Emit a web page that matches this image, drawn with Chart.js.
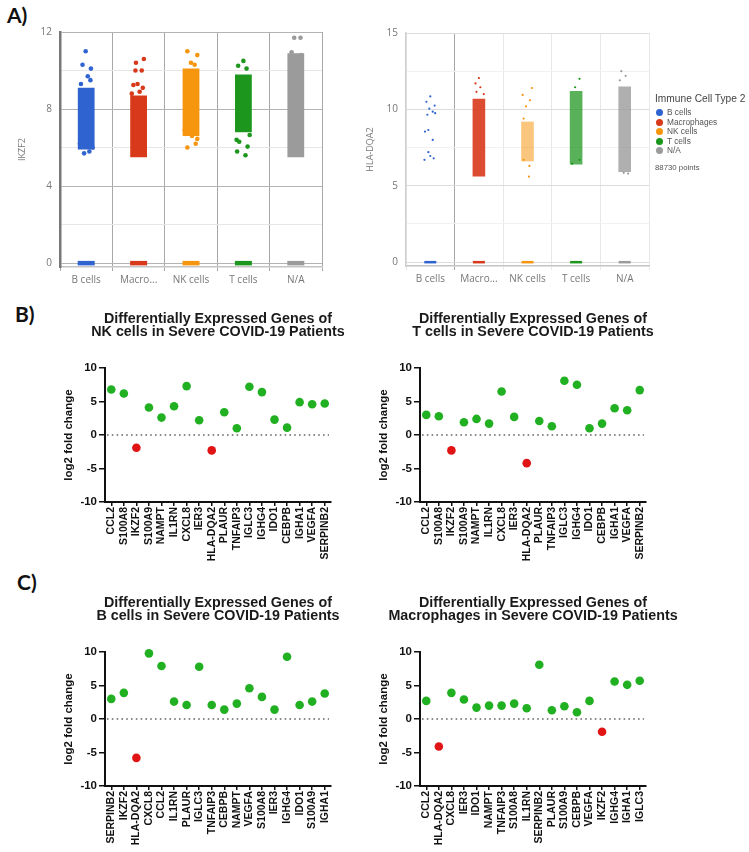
<!DOCTYPE html>
<html>
<head>
<meta charset="utf-8">
<script src="https://cdn.jsdelivr.net/npm/chart.js@4.4.1/dist/chart.umd.min.js"></script>
<style>
body{margin:0;background:#fff;}
#wrap{position:relative;width:749px;height:852px;overflow:hidden;}
canvas{position:absolute;}
.panel{position:absolute;font:bold 21px Lato,"Open Sans",sans-serif;color:#111;}
#legend{position:absolute;left:655px;top:92px;font-family:"Liberation Sans",Arial,sans-serif;color:#555;white-space:nowrap;}
#legend .ttl{font-size:10.2px;line-height:14px;color:#444;margin-bottom:2px;}
#legend .it{font-size:8.3px;height:9.6px;line-height:9.6px;}
#legend .dot{display:inline-block;width:7px;height:7px;border-radius:50%;margin:0 4px 0 1px;vertical-align:-1px;}
#legend .cnt{font-size:7.8px;line-height:10px;margin-top:7px;}
</style>
</head>
<body>
<div id="wrap">
  <div class="panel" style="left:7px;top:2px;">A)</div>
  <div class="panel" style="left:15px;top:301px;">B)</div>
  <div class="panel" style="left:17px;top:569px;">C)</div>
  <canvas id="a1" width="340" height="294" style="left:0;top:0"></canvas>
  <canvas id="a2" width="320" height="293" style="left:340px;top:0"></canvas>
  <div id="legend"></div>
  <canvas id="b1" width="370" height="265" style="left:0;top:300px"></canvas>
  <canvas id="b2" width="370" height="265" style="left:315px;top:300px"></canvas>
  <canvas id="c1" width="370" height="265" style="left:0;top:584px"></canvas>
  <canvas id="c2" width="370" height="265" style="left:315px;top:584px"></canvas>
</div>
<script>
// ---- A) expression strips ----
const cellTypes=['B cells','Macro...','NK cells','T cells','N/A']
const legendNames=['B cells','Macrophages','NK cells','T cells','N/A']
const zeroExpr=[0,0,0,0,0]
const pointCount='88730 points'

const ikzf2Ticks=[0,2,4,6,8,10,12]
const ikzf2Dense=[[5.9,9.1],[5.5,8.7],[6.6,10.1],[6.8,9.8],[5.5,10.9]]
const ikzf2Sparse=[
  [[-0.01,11.0],[-0.07,10.3],[0.09,10.1],[0.03,9.7],[0.08,9.5],[-0.1,9.3],[-0.12,6.2],[-0.04,5.7],[0.06,5.8],[0.12,6.0]],
  [[-0.05,10.4],[0.1,10.6],[0.06,10.0],[-0.06,10.0],[-0.02,9.3],[-0.1,9.25],[0.08,9.1],[0.02,8.9],[-0.13,8.8]],
  [[-0.07,11.0],[0.12,10.8],[0.0,10.4],[0.07,10.3],[-0.07,6.0],[0.09,6.2],[0.02,6.6],[0.12,6.45],[-0.12,6.9]],
  [[0.0,10.5],[-0.1,10.25],[0.06,10.1],[-0.08,6.3],[0.08,6.05],[-0.12,5.8],[0.04,5.6],[0.12,6.65],[-0.13,6.4]],
  [[-0.03,11.7],[0.09,11.7],[-0.08,10.95],[0.1,10.8]]
]

const hlaTicks=[0,2.5,5,7.5,10,12.5,15]
const hlaDense=[null,[5.6,10.7],[6.6,9.2],[6.4,11.2],[5.9,11.5]]
const hlaSparse=[
  [[0.0,10.85],[-0.08,10.5],[0.09,10.25],[-0.02,10.05],[0.05,9.85],[-0.06,9.65],[0.1,9.75],[-0.04,8.65],[-0.11,8.55],[0.05,8.0],[-0.04,7.2],[-0.12,6.7],[0.07,6.8],[0.0,6.95]],
  [[0.0,12.05],[-0.07,11.7],[0.03,11.45],[-0.05,11.15],[0.1,11.0]],
  [[0.09,11.4],[-0.1,10.95],[0.05,10.6],[-0.03,10.2],[-0.08,9.4],[0.04,6.3],[0.03,5.6],[-0.08,6.7]],
  [[0.07,12.0],[-0.02,11.45],[-0.08,6.45],[0.07,6.7]],
  [[-0.07,12.5],[0.02,12.2],[-0.1,11.9],[0.07,5.8],[-0.02,5.85]]
]

// ---- B) / C) differentially expressed genes ----
const nkGenes=['CCL2','S100A8','IKZF2','S100A9','NAMPT','IL1RN','CXCL8','IER3','HLA-DQA2','PLAUR','TNFAIP3','IGLC3','IGHG4','IDO1','CEBPB','IGHA1','VEGFA','SERPINB2']
const nkLfc=[6.8,6.2,-1.9,4.1,2.6,4.3,7.3,2.2,-2.3,3.4,1.0,7.2,6.4,2.3,1.1,4.9,4.6,4.7]
const tGenes=['CCL2','S100A8','IKZF2','S100A9','NAMPT','IL1RN','CXCL8','IER3','HLA-DQA2','PLAUR','TNFAIP3','IGLC3','IGHG4','IDO1','CEBPB','IGHA1','VEGFA','SERPINB2']
const tLfc=[3.0,2.8,-2.3,1.9,2.4,1.7,6.5,2.7,-4.2,2.1,1.3,8.1,7.5,1.0,1.7,4.0,3.7,6.7]
const bGenes=['SERPINB2','IKZF2','HLA-DQA2','CXCL8','CCL2','IL1RN','PLAUR','IGLC3','TNFAIP3','CEBPB','NAMPT','VEGFA','S100A8','IER3','IGHG4','IDO1','S100A9','IGHA1']
const bLfc=[3.0,3.9,-5.8,9.8,7.9,2.6,2.1,7.8,2.1,1.4,2.3,4.6,3.3,1.4,9.3,2.1,2.6,3.8]
const macGenes=['CCL2','HLA-DQA2','CXCL8','IER3','IDO1','NAMPT','TNFAIP3','S100A8','IL1RN','SERPINB2','PLAUR','S100A9','CEBPB','VEGFA','IKZF2','IGHG4','IGHA1','IGLC3']
const macLfc=[2.7,-4.1,3.9,2.9,1.7,2.0,2.0,2.3,1.6,8.1,1.3,1.9,1.0,2.7,-1.9,5.6,5.1,5.7]
const lfcTicks=[-10,-5,0,5,10]

const cellColors=['#2f63cf','#d8391b','#f6950e','#1c961c','#9b9b9b']
const SANS='"Open Sans", Arial, sans-serif'
const BOLD='"Liberation Sans", Arial, sans-serif'

Chart.defaults.animation=false
Chart.defaults.events=[]
Chart.defaults.plugins.legend.display=false
Chart.defaults.plugins.tooltip.enabled=false

function strip(id,o){
  const sets=[{
    type:'bar',data:o.dense,grouped:false,barPercentage:o.barPct,categoryPercentage:1,
    backgroundColor:cellColors.map((c,i)=>c+o.alpha[i]),borderWidth:0,order:3
  },{
    type:'scatter',data:zeroExpr,xAxisID:'x',pointStyle:'line',pointRadius:o.zeroLen,
    borderColor:cellColors,pointBorderColor:cellColors,pointBorderWidth:o.zeroW,order:1,clip:false
  }]
  o.sparse.forEach((pts,i)=>{
    sets.push({type:'scatter',xAxisID:'xj',data:pts.map(p=>({x:i+p[0],y:p[1]})),
      pointRadius:o.r,pointBackgroundColor:cellColors[i],pointBorderWidth:0,order:2})
  })
  new Chart(document.getElementById(id),{
    type:'bar',
    data:{labels:cellTypes,datasets:sets},
    options:{
      responsive:false,
      layout:{padding:{top:o.top,right:o.right,left:0,bottom:0}},
      scales:{
        x:{type:'category',offset:true,
          grid:{offset:true,color:o.vColor,tickLength:4,lineWidth:1},
          border:{color:'#c4c4c4',width:1.5},
          ticks:{color:'#777',font:{family:SANS,size:10},padding:3,maxRotation:0,autoSkip:false},
          afterFit:s=>{s.height=27}},
        xj:{type:'linear',min:-0.5,max:4.5,offset:false,display:false},
        y:{min:o.yMin,max:o.yMax,
          afterBuildTicks:s=>{s.ticks=o.ticks.map(v=>({value:v}))},
          ticks:{color:'#777',font:{family:SANS,size:10},padding:8,
            callback:v=>o.major(v)?v:''},
          grid:{drawTicks:false,color:c=>o.major(c.tick.value)?o.gMajor:o.gMinor,lineWidth:1},
          border:{color:o.yBorder,width:o.yBorderW},
          title:{display:true,text:o.yTitle,color:'#777',font:{family:SANS,size:9},padding:{top:o.titlePad,bottom:0}},
          afterFit:s=>{s.width=o.yWidth}}
      }
    }
  })
}

strip('a1',{dense:ikzf2Dense,sparse:ikzf2Sparse,ticks:ikzf2Ticks,yMin:-0.2,yMax:12,
  major:v=>v%4===0,gMajor:'#b4b4b4',gMinor:'#e6e6e6',yBorder:'#777',yBorderW:2.5,
  vColor:'#a8a8a8',barPct:0.32,alpha:['','','','',''],r:2.3,zeroLen:8.5,zeroW:4.5,
  yTitle:'IKZF2',titlePad:17,yWidth:60,top:32,right:18})

strip('a2',{dense:hlaDense,sparse:hlaSparse,ticks:hlaTicks,yMin:-0.25,yMax:15,
  major:v=>v%5===0,gMajor:'#dcdcdc',gMinor:'#f1f1f1',yBorder:'#cfcfcf',yBorderW:1.5,
  vColor:c=>c.index===1?'#a8a8a8':'#e8e8e8',barPct:0.26,alpha:['','e6','88','bb','cc'],r:1.1,zeroLen:6,zeroW:2.5,
  yTitle:'HLA-DQA2',titlePad:25,yWidth:66,top:33,right:11})

// legend for panel A right
const lg=document.getElementById('legend')
let html='<div class="ttl">Immune Cell Type 2</div>'
legendNames.forEach((n,i)=>{html+='<div class="it"><span class="dot" style="background:'+cellColors[i]+'"></span>'+n+'</div>'})
html+='<div class="cnt">'+pointCount+'</div>'
lg.innerHTML=html

// dotted line at 0 and a two line title centred over the plot area
const zeroLine={id:'zeroLine',beforeDatasetsDraw(chart){
  const {ctx,chartArea:a,scales:{y}}=chart
  const py=y.getPixelForValue(0)
  ctx.save()
  ctx.strokeStyle='#666'
  ctx.lineWidth=1.6
  ctx.setLineDash([1.6,3.2])
  ctx.beginPath()
  ctx.moveTo(a.left+2,py)
  ctx.lineTo(a.right-2,py)
  ctx.stroke()
  ctx.restore()
}}
const headTitle={id:'headTitle',afterDraw(chart,args,opts){
  const {ctx,chartArea:a}=chart
  ctx.save()
  ctx.fillStyle='#1a1a1a'
  ctx.font='bold 14.3px '+BOLD
  ctx.textAlign='center'
  ctx.textBaseline='middle'
  opts.lines.forEach((t,i)=>ctx.fillText(t,(a.left+a.right)/2,a.top-49+i*13.5))
  ctx.restore()
}}

function deg(id,title,genes,vals){
  new Chart(document.getElementById(id),{
    type:'line',
    data:{labels:genes,datasets:[{data:vals,showLine:false,pointRadius:4.3,pointBorderWidth:0,clip:false,
      pointBackgroundColor:c=>c.raw<0?'#e01414':'#21b021'}]},
    options:{
      responsive:false,
      layout:{padding:{top:68,right:39,left:0,bottom:3}},
      plugins:{headTitle:{lines:title}},
      scales:{
        x:{offset:true,
          grid:{drawOnChartArea:false,tickLength:4,color:'#111',lineWidth:1.5},
          border:{color:'#111',width:2},
          ticks:{autoSkip:false,minRotation:90,maxRotation:90,color:'#111',padding:1,
            font:{family:BOLD,size:10.5,weight:'bold'}},
          afterFit:s=>{s.height=60}},
        y:{min:-10,max:10,
          afterBuildTicks:s=>{s.ticks=lfcTicks.map(v=>({value:v}))},
          grid:{drawOnChartArea:false,tickLength:6,color:'#111',lineWidth:1.5},
          border:{color:'#111',width:2},
          ticks:{color:'#111',padding:2,font:{family:BOLD,size:11.5,weight:'bold'}},
          title:{display:true,text:'log2 fold change',color:'#111',
            font:{family:BOLD,size:11.5,weight:'bold'},padding:{top:62,bottom:0}},
          afterFit:s=>{s.width=105}}
      }
    },
    plugins:[zeroLine,headTitle]
  })
}

deg('b1',['Differentially Expressed Genes of','NK cells in Severe COVID-19 Patients'],nkGenes,nkLfc)
deg('b2',['Differentially Expressed Genes of','T cells in Severe COVID-19 Patients'],tGenes,tLfc)
deg('c1',['Differentially Expressed Genes of','B cells in Severe COVID-19 Patients'],bGenes,bLfc)
deg('c2',['Differentially Expressed Genes of','Macrophages in Severe COVID-19 Patients'],macGenes,macLfc)
</script>
</body>
</html>
